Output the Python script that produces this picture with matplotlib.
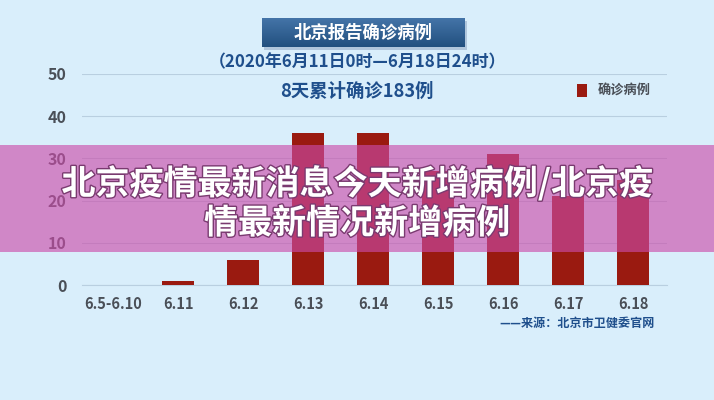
import matplotlib
matplotlib.use("Agg")
import matplotlib.pyplot as plt
import matplotlib.patheffects as pe
from matplotlib.patches import Rectangle
from matplotlib.colors import LinearSegmentedColormap
import numpy as np

plt.rcParams['font.family'] = ['Noto Sans CJK SC', 'DejaVu Sans']

categories = ["6.5-6.10", "6.11", "6.12", "6.13", "6.14", "6.15", "6.16", "6.17", "6.18"]
values = [0, 1, 6, 36, 36, 27, 31, 21, 25]
yticks = [0, 10, 20, 30, 40, 50]
title = "北京报告确诊病例"
subtitle = "（2020年6月11日0时—6月18日24时）"
total_text = "8天累计确诊183例"
legend_label = "确诊病例"
source = "——来源：北京市卫健委官网"
overlay = "北京疫情最新消息今天新增病例/北京疫\n情最新情况新增病例"

W, H = 714, 400
bg = "#d9eefb"
bar_color = "#9a1a10"
navy = "#1f4f8c"
gray = "#4a4f57"

fig = plt.figure(figsize=(W / 100, H / 100), dpi=100, facecolor=bg)

ax = fig.add_axes([82 / W, 1 - 285 / H, (667 - 82) / W, (285 - 74) / H])
ax.set_facecolor(bg)
x = np.arange(len(categories))
ax.bar(x, values, width=0.5, color=bar_color, zorder=3)
ax.set_xlim(-0.48, len(categories) - 0.48)
ax.set_ylim(0, 50)
ax.set_yticks(yticks)
ax.set_yticklabels([str(v) for v in yticks], fontsize=11.5, fontweight='bold', color=gray)
ax.set_xticks(x)
ax.set_xticklabels(categories, fontsize=10.5, fontweight='bold', color=gray)
ax.tick_params(axis='both', length=0)
ax.tick_params(axis='y', pad=11)
ax.tick_params(axis='x', pad=8)
ax.grid(axis='y', color="#b9cfe0", linewidth=0.8, zorder=0)
for s in ['top', 'right', 'left']:
    ax.spines[s].set_visible(False)
ax.spines['bottom'].set_color("#b9cfe0")

# Title box shadow + gradient
fig.patches.append(Rectangle((264 / W, 1 - 50 / H), (465 - 262) / W, (47 - 18) / H,
                             color="#9fb6cf", alpha=0.7, linewidth=0, zorder=-1,
                             transform=fig.transFigure, figure=fig))
tax = fig.add_axes([262 / W, 1 - 47 / H, (465 - 262) / W, (47 - 18) / H], zorder=2)
grad = np.linspace(0, 1, 100)[:, None]
cmap = LinearSegmentedColormap.from_list("g", ["#22507f", "#4474a8"])
tax.imshow(grad, aspect='auto', cmap=cmap, extent=[0, 1, 0, 1], origin='lower')
tax.set_axis_off()
tax.text(0.5, 0.5, title, ha='center', va='center', color='white', fontsize=12.5,
         fontweight='bold', transform=tax.transAxes)

fig.text(357 / W, 1 - 62 / H, subtitle, ha='center', va='center', color=navy,
         fontsize=12.2, fontweight='bold')
fig.text(357 / W, 1 - 91 / H, total_text, ha='center', va='center', color=navy,
         fontsize=13.2, fontweight='bold')

# Legend
fig.patches.append(Rectangle((577 / W, 1 - 97 / H), 10 / W, 13 / H, color=bar_color,
                             linewidth=0, transform=fig.transFigure, figure=fig))
fig.text(598 / W, 1 - 90 / H, legend_label, ha='left', va='center', color=gray,
         fontsize=9.5, fontweight='bold')

fig.text(655 / W, 1 - 323 / H, source, ha='right', va='center', color=navy,
         fontsize=8.7, fontweight='bold')

# Pink overlay band
fig.patches.append(Rectangle((0, 1 - 252 / H), 1, (252 - 145) / H, facecolor="#cb4caa",
                             alpha=0.63, linewidth=0, transform=fig.transFigure,
                             figure=fig, zorder=5))
fig.text(357 / W, 1 - 203 / H, overlay, ha='center', va='center', color='white',
         fontsize=24.5, fontweight='heavy', linespacing=1.15, zorder=6,
         path_effects=[pe.withStroke(linewidth=2, foreground="#7a3a70")])

fig.savefig("out.png", dpi=100, facecolor=bg)
